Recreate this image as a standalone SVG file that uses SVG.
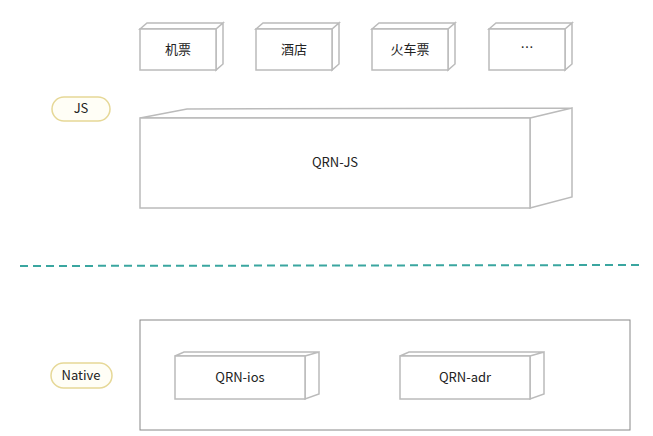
<svg xmlns="http://www.w3.org/2000/svg" width="653" height="436" viewBox="0 0 653 436">
<style>
.b{fill:#fff;stroke:#bbb;stroke-width:1.5}
.t{font-family:"Noto Sans CJK SC","Liberation Sans",sans-serif;font-size:13px;fill:#222;text-anchor:middle}
.p{fill:#fffef6;stroke:#e6d897;stroke-width:1.5}
</style>
<rect width="653" height="436" fill="#fff"/>
<g id="n1"><path class="b" d="M140,29 L147,23 L223,23 L216,29 Z M216,29 L223,23 L223,64 L216,70 Z"/><rect class="b" x="140" y="29" width="76" height="41"/><text class="t" x="178" y="54">机票</text></g>
<g id="n2"><path class="b" d="M256,29 L263,23 L339,23 L332,29 Z M332,29 L339,23 L339,64 L332,70 Z"/><rect class="b" x="256" y="29" width="76" height="41"/><text class="t" x="294" y="54">酒店</text></g>
<g id="n3"><path class="b" d="M372,29 L379,23 L455,23 L448,29 Z M448,29 L455,23 L455,64 L448,70 Z"/><rect class="b" x="372" y="29" width="76" height="41"/><text class="t" x="410" y="54">火车票</text></g>
<g id="n4"><path class="b" d="M489,29 L496,23 L572,23 L565,29 Z M565,29 L572,23 L572,64 L565,70 Z"/><rect class="b" x="489" y="29" width="76" height="41"/><text class="t" x="527" y="52">…</text></g>
<g id="js"><rect class="p" x="52" y="97" width="58" height="24" rx="12"/><text class="t" x="81" y="113" font-size="11">JS</text></g>
<g id="qrnjs"><path class="b" d="M140,118 L187,109 L572,108 L530,118 Z M530,118 L572,108 L572,197 L530,208 Z"/><rect class="b" x="140" y="118" width="390" height="90"/><text class="t" x="335" y="167">QRN-JS</text></g>
<g id="connectors"><line x1="20" y1="266" x2="640" y2="265" stroke="#3aa6a0" stroke-width="2" stroke-dasharray="8,5"/></g>
<g id="native"><rect class="p" x="51" y="363" width="61" height="25" rx="12.5"/><text class="t" x="81" y="380" font-size="11">Native</text></g>
<g id="container"><rect x="140" y="320" width="490" height="110" fill="none" stroke="#888" stroke-width="1"/></g>
<g id="ios"><path class="b" d="M175,356 L184,352 L319,352 L305,356 Z M305,356 L319,352 L319,394 L305,399 Z"/><rect class="b" x="175" y="356" width="130" height="43"/><text class="t" x="240" y="382">QRN-ios</text></g>
<g id="adr"><path class="b" d="M400,356 L409,352 L544,352 L530,356 Z M530,356 L544,352 L544,394 L530,399 Z"/><rect class="b" x="400" y="356" width="130" height="43"/><text class="t" x="465" y="382">QRN-adr</text></g>
</svg>
